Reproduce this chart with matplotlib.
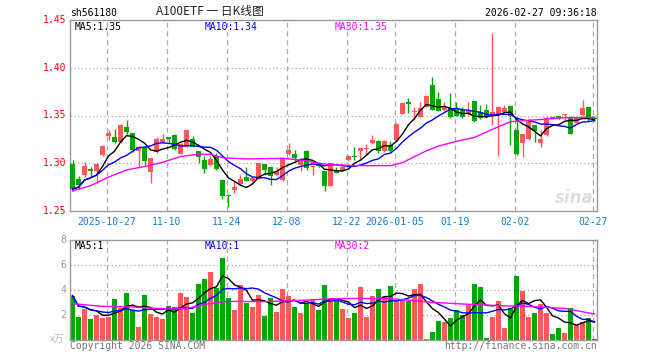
import numpy as np
import pandas as pd
import matplotlib
matplotlib.use('Agg')
from matplotlib import pyplot as plt

# daily OHLC, one entry per trading day (2025-10-17 .. 2026-02-27)
opens = [1.299, 1.2835, 1.288, 1.294, 1.292, 1.309, 1.329, 1.3275, 1.3226, 1.338,
         1.332, 1.313, 1.317, 1.291, 1.312, 1.3226, 1.328, 1.3296, 1.310, 1.317,
         1.325, 1.313, 1.303, 1.298, 1.3076, 1.2825, 1.2668, 1.272, 1.278, 1.286,
         1.281, 1.284, 1.299, 1.296, 1.288, 1.282, 1.310, 1.310, 1.298, 1.313,
         1.2965, 1.2996, 1.292, 1.2765, 1.292, 1.292, 1.3034, 1.3076, 1.313, 1.3146,
         1.321, 1.3236, 1.313, 1.319, 1.324, 1.352, 1.3638, 1.3533, 1.3487, 1.359,
         1.382, 1.367, 1.356, 1.3575, 1.358, 1.356, 1.352, 1.365, 1.354, 1.356,
         1.3505, 1.3516, 1.354, 1.360, 1.335, 1.3215, 1.325, 1.340, 1.3215, 1.330,
         1.3487, 1.349, 1.3505, 1.348, 1.342, 1.3505, 1.3586, 1.347]
closes = [1.273, 1.277, 1.297, 1.292, 1.299, 1.318, 1.332, 1.322, 1.340, 1.3325,
          1.314, 1.317, 1.302, 1.305, 1.325, 1.325, 1.325, 1.315, 1.320, 1.335,
          1.317, 1.307, 1.294, 1.304, 1.2936, 1.266, 1.266, 1.2755, 1.284, 1.2814,
          1.285, 1.300, 1.293, 1.287, 1.292, 1.305, 1.314, 1.306, 1.303, 1.295,
          1.297, 1.297, 1.2765, 1.300, 1.290, 1.296, 1.3076, 1.3065, 1.316, 1.3163,
          1.3243, 1.313, 1.323, 1.313, 1.341, 1.363, 1.362, 1.355, 1.3575, 1.370,
          1.356, 1.355, 1.359, 1.348, 1.350, 1.348, 1.356, 1.344, 1.347, 1.348,
          1.354, 1.3586, 1.3575, 1.3495, 1.310, 1.3306, 1.3435, 1.334, 1.325, 1.3477,
          1.3474, 1.3476, 1.3513, 1.331, 1.347, 1.3575, 1.347, 1.346]
highs = [1.303, 1.2866, 1.3016, 1.2964, 1.300, 1.319, 1.3348, 1.3356, 1.341, 1.3453,
         1.332, 1.318, 1.318, 1.306, 1.3275, 1.3306, 1.328, 1.331, 1.321, 1.336,
         1.3285, 1.313, 1.3076, 1.308, 1.311, 1.283, 1.268, 1.2807, 1.2877, 1.2958,
         1.2855, 1.3005, 1.299, 1.296, 1.296, 1.307, 1.321, 1.3139, 1.3035, 1.3135,
         1.2985, 1.3015, 1.292, 1.3005, 1.2958, 1.300, 1.309, 1.3173, 1.316, 1.320,
         1.3296, 1.324, 1.324, 1.3233, 1.3425, 1.364, 1.368, 1.3592, 1.364, 1.371,
         1.3906, 1.375, 1.364, 1.3732, 1.364, 1.359, 1.3642, 1.365, 1.361, 1.362,
         1.436, 1.360, 1.361, 1.360, 1.347, 1.3306, 1.347, 1.340, 1.3348, 1.349,
         1.3495, 1.3495, 1.3513, 1.349, 1.3485, 1.3662, 1.3586, 1.349]
lows = [1.271, 1.2727, 1.2853, 1.2853, 1.279, 1.3076, 1.3244, 1.3209, 1.3215, 1.3296,
        1.312, 1.296, 1.298, 1.279, 1.311, 1.3209, 1.321, 1.314, 1.3095, 1.3165,
        1.3165, 1.300, 1.2895, 1.297, 1.293, 1.2626, 1.2545, 1.2692, 1.2775, 1.281,
        1.2805, 1.2835, 1.2877, 1.2772, 1.287, 1.281, 1.3085, 1.3027, 1.2919, 1.293,
        1.2875, 1.2965, 1.2713, 1.276, 1.2895, 1.2915, 1.3025, 1.3034, 1.3034, 1.3086,
        1.3205, 1.311, 1.312, 1.312, 1.3235, 1.3515, 1.3523, 1.3453, 1.348, 1.3585,
        1.356, 1.3545, 1.3545, 1.347, 1.349, 1.347, 1.351, 1.343, 1.346, 1.347,
        1.340, 1.3076, 1.3535, 1.319, 1.3086, 1.3069, 1.3245, 1.3226, 1.3173, 1.329,
        1.3465, 1.3465, 1.3453, 1.3305, 1.341, 1.350, 1.3445, 1.3445]
# volume (x万)
vols = [3.55, 1.87, 2.51, 1.71, 2.03, 1.79, 1.87, 3.31, 2.59, 3.79,
        2.43, 1.07, 3.63, 2.11, 1.87, 1.71, 2.75, 2.67, 3.79, 3.47,
        2.19, 4.51, 4.91, 5.47, 4.19, 6.59, 3.39, 2.43, 4.43, 2.99,
        2.67, 3.63, 1.95, 3.39, 2.27, 4.11, 3.55, 2.67, 2.19, 2.91,
        3.23, 2.43, 4.43, 3.31, 3.15, 2.51, 1.79, 2.19, 4.27, 1.87,
        3.55, 4.11, 3.55, 4.35, 3.23, 3.31, 3.15, 4.11, 4.51, 0.11,
        0.67, 1.55, 1.47, 1.79, 2.43, 2.03, 2.83, 4.51, 4.27, 0.19,
        1.87, 3.15, 0.99, 2.59, 5.15, 3.95, 1.87, 2.19, 2.91, 2.19,
        0.51, 0.99, 0.59, 2.59, 1.23, 1.47, 1.79, 0.11]

# MA30 lines (need data from before the window)
ma30_idx = [0, 3, 6, 9, 12, 15, 18, 21, 23, 25, 29, 35, 38, 41, 43, 47, 53,
            55, 57, 59, 61, 64, 67, 71, 73, 79, 82, 87]
ma30_val = [1.271, 1.2765, 1.2855, 1.293, 1.2965, 1.301, 1.307, 1.3095, 1.3094,
            1.3058, 1.3045, 1.3052, 1.3034, 1.300, 1.2985, 1.2975, 1.2975,
            1.3006, 1.307, 1.3131, 1.318, 1.323, 1.3271, 1.3383, 1.3435, 1.3463,
            1.3477, 1.348]
vma30_idx = [0, 5, 10, 16, 19, 22, 25, 27, 32, 38, 43, 48, 54, 60, 65, 71, 76,
             82, 84, 87]
vma30_val = [2.91, 2.69, 2.64, 2.48, 2.51, 2.85, 3.04, 3.09, 3.07, 3.17, 3.30,
             3.33, 3.28, 3.01, 2.88, 2.75, 2.69, 2.53, 2.35, 2.08]

date_idx = [6, 16, 26, 36, 46, 54, 64, 74, 87]
date_lbl = ['2025-10-27', '11-10', '11-24', '12-08', '12-22', '2026-01-05',
            '01-19', '02-02', '02-27']
price_ticks = [1.25, 1.30, 1.35, 1.40, 1.45]
vol_ticks = [2, 4, 6, 8]

RED = '#ff5858'
GREEN = '#00a800'
GRID = '#aaaaaa'
FRAME = '#999999'
mono = 'DejaVu Sans Mono'
cjk = ['Noto Sans CJK SC', 'DejaVu Sans']

n = len(closes)
x = np.arange(n)
o = np.array(opens)
c = np.array(closes)
up = c >= o
colors = [RED if u else GREEN for u in up]

cs = pd.Series(closes)
ma5 = cs.rolling(5, min_periods=1).mean()
ma10 = cs.rolling(10, min_periods=1).mean()
vs = pd.Series(vols)
vma5 = vs.rolling(5, min_periods=1).mean()
vma10 = vs.rolling(10, min_periods=1).mean()

W, H = 660, 360
fig = plt.figure(figsize=(6.6, 3.6), dpi=100)

def px(l, t, r, b):
    return [l / W, 1 - b / H, (r - l) / W, (b - t) / H]

ax = fig.add_axes(px(70, 20, 597, 211))
axv = fig.add_axes(px(70, 240, 597, 340))
xl = (-2.5 / 6, (597 - 72.5) / 6)

for a in (ax, axv):
    a.set_xlim(*xl)
    for s in a.spines.values():
        s.set_color(FRAME)
        s.set_linewidth(1)
    a.set_xticks([])
    a.set_yticks([])
    for d in date_idx:
        a.axvline(d - 0.25, color=GRID, lw=0.9, dashes=(4, 3), zorder=0)

# price panel
ax.set_ylim(1.25, 1.45)
for p in price_ticks[1:-1]:
    ax.axhline(p, color=GRID, lw=0.9, dashes=(1, 2), zorder=0)
ax.vlines(x, lows, highs, colors=colors, lw=1, zorder=2)
body_h = np.maximum(np.abs(c - o), 0.0008)
ax.bar(x, body_h, bottom=np.minimum(o, c), width=5 / 6, color=colors,
       linewidth=0, zorder=3)
ax.plot(x, ma5, color='black', lw=1, zorder=4)
ax.plot(x, ma10, color='#0000ff', lw=1, zorder=4)
ax.plot(ma30_idx, ma30_val, color='#ff00ff', lw=1, zorder=4)

# volume panel
axv.set_ylim(0, 8)
for v in vol_ticks[:-1]:
    axv.axhline(v, color=GRID, lw=0.9, dashes=(1, 2), zorder=0)
axv.bar(x, vols, width=5 / 6, color=colors, linewidth=0, zorder=2)
axv.plot(x, vma5, color='black', lw=1, zorder=4)
axv.plot(x, vma10, color='#0000ff', lw=1, zorder=4)
axv.plot(vma30_idx, vma30_val, color='#ff00ff', lw=1, zorder=4)

def ft(xp, yp, s, **kw):
    fig.text(xp / W, 1 - yp / H, s, **kw)

# y tick labels
for p in price_ticks:
    yp = 20 + (1.45 - p) / 0.20 * 191
    ft(66, yp, '%.2f' % p, color='red', family=mono, fontsize=7,
       ha='right', va='center')
for v in vol_ticks:
    yp = 340 - v * 12.5
    ft(66, yp, str(v), color='#999999', family=mono, fontsize=7,
       ha='right', va='center')
ft(64, 339, 'x万', color='#bbbbbb', family=cjk, fontsize=7, ha='right',
   va='center')

# date labels
for d, s in zip(date_idx, date_lbl):
    xp = 72.5 + 6 * (d - 0.25)
    ft(xp, 222, s, color='#0a7fd0', family=mono, fontsize=7, ha='center',
       va='center')

# header
ft(70, 13, 'sh561180', color='black', family=mono, fontsize=7, va='center')
ft(210, 12, 'A100ETF 一 日K线图', color='#222222', family=cjk, fontsize=8.5,
   ha='center', va='center')
ft(597, 13, '2026-02-27 09:36:18', color='black', family=mono, fontsize=7,
   ha='right', va='center')

# legends
ft(75, 27, 'MA5:1.35', color='black', family=mono, fontsize=7, va='center')
ft(205, 27, 'MA10:1.34', color='#0000ff', family=mono, fontsize=7, va='center')
ft(335, 27, 'MA30:1.35', color='#ff00ff', family=mono, fontsize=7, va='center')
ft(75, 246, 'MA5:1', color='black', family=mono, fontsize=7, va='center')
ft(205, 246, 'MA10:1', color='#0000ff', family=mono, fontsize=7, va='center')
ft(335, 246, 'MA30:2', color='#ff00ff', family=mono, fontsize=7, va='center')

# footer + watermark
ft(70, 346, 'Copyright 2026 SINA.COM', color='#777777', family=mono,
   fontsize=7, va='center')
ft(597, 346, 'http://finance.sina.com.cn', color='#777777', family=mono,
   fontsize=7, ha='right', va='center')
ft(594, 198, 'sina', color='#dddddd', fontsize=12, fontweight='bold',
   style='italic', ha='right', va='center')

fig.savefig('out.png', dpi=100)
